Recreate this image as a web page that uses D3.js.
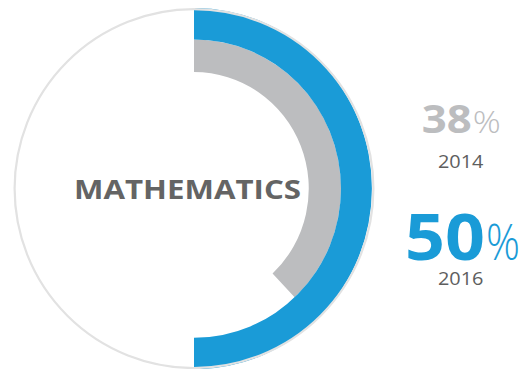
<!DOCTYPE html>
<html>
<head>
<meta charset="utf-8">
<script src="https://cdn.jsdelivr.net/npm/d3@7"></script>
<style>
  html, body { margin: 0; padding: 0; background: #fff; }
  svg { display: block; }
</style>
</head>
<body>
<svg id="chart" width="525" height="369"></svg>
<script>
// Subject and yearly shares (percent)
const subject = "MATHEMATICS";
const years = ["2014", "2016"];
const values = [38, 50];
const colors = ["#bcbdbf", "#1a9bd7"];

const W = 525, H = 369;
const cx = 194, cy = 188.6;

const svg = d3.select("#chart");

// percent -> angle, clockwise from 12 o'clock
const angle = d3.scaleLinear().domain([0, 100]).range([0, 2 * Math.PI]);

// Rings: 2014 inner, 2016 outer
const rings = [
  { inner: 116.5, outer: 149.2 },
  { inner: 149.2, outer: 180.6 }
];

const g = svg.append("g").attr("transform", `translate(${cx},${cy}) scale(0.985,1)`);

// Faint full-circle track
svg.append("circle")
  .attr("cx", cx).attr("cy", cy).attr("r", 179.4)
  .attr("fill", "none")
  .attr("stroke", "#e2e2e2")
  .attr("stroke-width", 2.2);

const arc = d3.arc();
g.selectAll("path.ring")
  .data(values)
  .join("path")
  .attr("class", "ring")
  .attr("fill", (d, i) => colors[i])
  .attr("d", (d, i) => arc({
    innerRadius: rings[i].inner,
    outerRadius: rings[i].outer,
    startAngle: angle(0),
    endAngle: angle(d)
  }));

// Centre label
svg.append("text")
  .attr("x", 74).attr("y", 199.3)
  .attr("textLength", 227)
  .attr("lengthAdjust", "spacingAndGlyphs")
  .attr("font-family", "'Open Sans', sans-serif")
  .attr("font-weight", 700)
  .attr("font-size", 26)
  .attr("fill", "#646464")
  .text(subject);

// Value labels with year captions
const labelLayout = [
  { numX: 421.7, numW: 50, pctW: 29, base: 133.3, size: 39, yearBase: 168.3 },
  { numX: 405, numW: 80, pctW: 35, base: 260, size: 64, yearBase: 285 }
];

values.forEach((v, i) => {
  const L = labelLayout[i];
  svg.append("text")
    .attr("x", L.numX).attr("y", L.base)
    .attr("textLength", L.numW)
    .attr("lengthAdjust", "spacingAndGlyphs")
    .attr("font-family", "'Open Sans', sans-serif")
    .attr("font-weight", 700)
    .attr("font-size", L.size)
    .attr("fill", colors[i])
    .text(v);
  svg.append("text")
    .attr("x", L.numX + L.numW + 1).attr("y", L.base)
    .attr("textLength", L.pctW - 1)
    .attr("lengthAdjust", "spacingAndGlyphs")
    .attr("font-family", "'Open Sans', sans-serif")
    .attr("font-weight", 300)
    .attr("font-size", L.size * 0.78)
    .attr("fill", colors[i])
    .text("%");
  svg.append("text")
    .attr("x", 438).attr("y", L.yearBase)
    .attr("textLength", 45.5)
    .attr("lengthAdjust", "spacingAndGlyphs")
    .attr("font-family", "'Open Sans', sans-serif")
    .attr("font-weight", 400)
    .attr("font-size", 18.5)
    .attr("fill", "#5e5e5e")
    .text(years[i]);
});
</script>
</body>
</html>
